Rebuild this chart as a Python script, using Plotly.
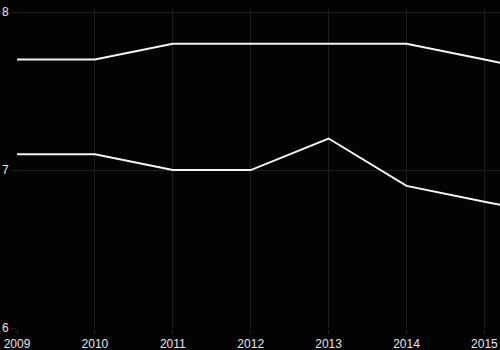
import plotly.graph_objects as go

years = [2009, 2010, 2011, 2012, 2013, 2014, 2015, 2016]
series_upper = [7.7, 7.7, 7.8, 7.8, 7.8, 7.8, 7.7, 7.6]
series_lower = [7.1, 7.1, 7.0, 7.0, 7.2, 6.9, 6.8, 6.7]
x_ticks = [2009, 2010, 2011, 2012, 2013, 2014, 2015]
y_ticks = [6, 7, 8]

line_style = dict(color="#f4f4f4", width=2)
grid_color = "#1e1e1e"
font_color = "#e6e6e6"
tick_font = dict(family="Liberation Sans, Arial, sans-serif", size=12, color=font_color)

fig = go.Figure()
for name, vals in (("upper", series_upper), ("lower", series_lower)):
    fig.add_trace(go.Scatter(x=years, y=vals, mode="lines", name=name,
                             line=line_style, hoverinfo="skip"))

fig.update_layout(
    width=500, height=350,
    margin=dict(l=17, r=0, t=9, b=22),
    paper_bgcolor="#030303", plot_bgcolor="#030303",
    showlegend=False,
    font=tick_font,
)
fig.update_xaxes(
    range=[2009, 2015.2], tickvals=x_ticks, ticktext=[str(v) for v in x_ticks],
    tickfont=tick_font,
    showgrid=True, gridcolor=grid_color, gridwidth=1,
    ticks="outside", ticklen=5, tickcolor=grid_color,
    zeroline=False, showline=False, automargin=False,
)
fig.update_yaxes(
    range=[6, 8.02], tickvals=y_ticks, ticktext=[str(v) for v in y_ticks],
    tickfont=tick_font,
    showgrid=True, gridcolor=grid_color, gridwidth=1,
    ticks="outside", ticklen=5, tickcolor=grid_color,
    zeroline=False, showline=False, automargin=False,
)

fig.write_html("out.html")
